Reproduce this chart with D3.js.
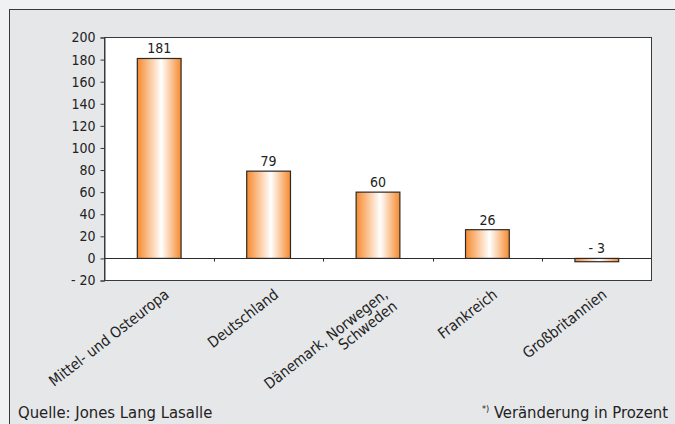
<!DOCTYPE html>
<html>
<head>
<meta charset="utf-8">
<script src="https://cdn.jsdelivr.net/npm/d3@7"></script>
<style>
  html, body { margin: 0; padding: 0; background: #f0f1f3; }
  svg { display: block; font-family: "Liberation Sans Narrow", "DejaVu Sans Condensed", sans-serif; }
</style>
</head>
<body>
<svg id="chart" width="675" height="424"></svg>
<script>
// Data
const categories = [
  ["Mittel- und Osteuropa"],
  ["Deutschland"],
  ["Dänemark, Norwegen,", "Schweden"],
  ["Frankreich"],
  ["Großbritannien"]
];
const values = [181, 79, 60, 26, -3];
const yTicks = [200, 180, 160, 140, 120, 100, 80, 60, 40, 20, 0, -20];

const svg = d3.select("#chart");

// outer frame
svg.append("rect")
  .attr("x", 9.5).attr("y", 9.5)
  .attr("width", 700).attr("height", 450)
  .attr("fill", "#e6e7e9")
  .attr("stroke", "#3a3a3a")
  .attr("stroke-width", 1);

const plot = {left: 104.5, right: 651.5, top: 37.5, bottom: 280.5};

const x = d3.scaleBand()
  .domain(d3.range(values.length))
  .range([plot.left, plot.right])
  .paddingInner(0.6)
  .paddingOuter(0.3);

const y = d3.scaleLinear()
  .domain([-20, 200])
  .range([plot.bottom, plot.top]);

// gradient for bars
const grad = svg.append("defs").append("linearGradient")
  .attr("id", "barGrad")
  .attr("x1", "0%").attr("x2", "100%").attr("y1", "0%").attr("y2", "0%");
grad.append("stop").attr("offset", "0%").attr("stop-color", "#f68a2e");
grad.append("stop").attr("offset", "55%").attr("stop-color", "#ffffff");
grad.append("stop").attr("offset", "100%").attr("stop-color", "#f68a2e");

// plot area
svg.append("rect")
  .attr("x", plot.left).attr("y", plot.top)
  .attr("width", plot.right - plot.left)
  .attr("height", plot.bottom - plot.top)
  .attr("fill", "#ffffff")
  .attr("stroke", "#3a3a3a")
  .attr("stroke-width", 1);

// y axis
const yAxis = svg.append("g")
  .attr("transform", `translate(${plot.left},0)`)
  .call(d3.axisLeft(y).tickValues(yTicks).tickSize(4).tickPadding(5)
    .tickFormat(d => d < 0 ? "- " + Math.abs(d) : d));
yAxis.select(".domain").attr("stroke", "#3a3a3a");
yAxis.selectAll(".tick line").attr("stroke", "#3a3a3a");
yAxis.selectAll(".tick text")
  .attr("font-size", 14)
  .attr("fill", "#222")
  .attr("font-family", "Liberation Sans Narrow, DejaVu Sans Condensed, sans-serif");

// bars
svg.selectAll("rect.bar")
  .data(values)
  .enter().append("rect")
  .attr("class", "bar")
  .attr("x", (d, i) => x(i))
  .attr("y", d => y(Math.max(0, d)))
  .attr("width", x.bandwidth())
  .attr("height", d => Math.abs(y(d) - y(0)))
  .attr("fill", "url(#barGrad)")
  .attr("stroke", "#2a2a2a")
  .attr("stroke-width", 1.2);

// zero line
const zeroY = Math.round(y(0)) + 0.5;
svg.append("line")
  .attr("x1", plot.left).attr("x2", plot.right)
  .attr("y1", zeroY).attr("y2", zeroY)
  .attr("stroke", "#2a2a2a");

// category separator ticks on zero line
svg.selectAll("line.cat")
  .data(d3.range(1, values.length))
  .enter().append("line")
  .attr("class", "cat")
  .attr("x1", i => Math.round(x(i) - x.step() * x.paddingInner() / 2) + 0.5)
  .attr("x2", i => Math.round(x(i) - x.step() * x.paddingInner() / 2) + 0.5)
  .attr("y1", zeroY).attr("y2", zeroY + 3)
  .attr("stroke", "#2a2a2a");

// value labels
svg.selectAll("text.val")
  .data(values)
  .enter().append("text")
  .attr("class", "val")
  .attr("x", (d, i) => x(i) + x.bandwidth() / 2)
  .attr("y", d => d < 0 ? y(0) - 5 : y(d) - 5)
  .attr("text-anchor", "middle")
  .attr("font-size", 14)
  .attr("fill", "#222")
  .text(d => d < 0 ? "- " + Math.abs(d) : d);

// category labels, rotated
const cat = svg.selectAll("g.cat")
  .data(categories)
  .enter().append("g")
  .attr("class", "cat")
  .attr("transform", (d, i) => `translate(${x(i) + x.bandwidth() / 2 + 4},${plot.bottom + 7}) rotate(-38)`);
cat.each(function(lines) {
  const t = d3.select(this).append("text")
    .attr("text-anchor", "end")
    .attr("font-size", 15)
    .attr("fill", "#222");
  lines.forEach((l, k) => {
    t.append("tspan").attr("x", 0).attr("dy", k === 0 ? "0.75em" : "1.0em").text(l);
  });
});

// footer
svg.append("text")
  .attr("x", 18).attr("y", 418)
  .attr("font-size", 16.5)
  .attr("fill", "#222")
  .text("Quelle: Jones Lang Lasalle");

const note = svg.append("text")
  .attr("x", 668).attr("y", 418)
  .attr("text-anchor", "end")
  .attr("font-size", 16.5)
  .attr("fill", "#222");
note.append("tspan").attr("font-size", 9).attr("dy", -6).text("*)");
note.append("tspan").attr("dy", 6).text(" Veränderung in Prozent");
</script>
</body>
</html>
